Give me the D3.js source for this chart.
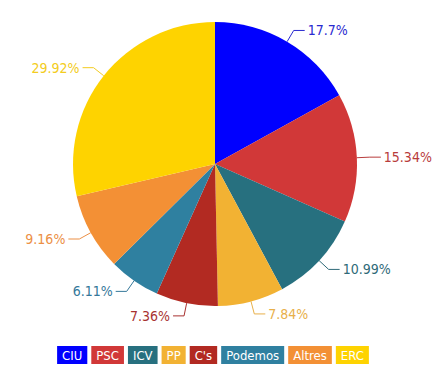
<!DOCTYPE html>
<html>
<head>
<meta charset="utf-8">
<script src="https://cdn.jsdelivr.net/npm/d3@7"></script>
<style>
  body { margin: 0; background: #fff; }
  svg { display: block; font-family: "Liberation Sans Narrow", "DejaVu Sans Condensed", sans-serif; }
</style>
</head>
<body>
<svg width="448" height="384"></svg>
<script>
var parties = ['CIU', 'PSC', 'ICV', 'PP', "C's", 'Podemos', 'Altres', 'ERC']
var values = [17.7, 15.34, 10.99, 7.84, 7.36, 6.11, 9.16, 29.92]
var labels = ['17.7%', '15.34%', '10.99%', '7.84%', '7.36%', '6.11%', '9.16%', '29.92%']
var colors = ['#0000ff', '#d13838', '#27707f', '#f2b233', '#b22a22', '#2f80a0', '#f39035', '#fed300']
var textColors = ['#2a2ad0', '#b83c3c', '#2f6a78', '#e8b04a', '#a83230', '#35789a', '#ec8f45', '#f3cc20']

var data = parties.map(function (p, i) {
  return { party: p, value: values[i], label: labels[i], color: colors[i], tcolor: textColors[i] }
})

var svg = d3.select('svg')
var cx = 215, cy = 164, r = 142

var pie = d3.pie().sort(null).value(function (d) { return d.value })
var arc = d3.arc().innerRadius(0).outerRadius(r)
var arcs = pie(data)

var g = svg.append('g').attr('transform', 'translate(' + cx + ',' + cy + ')')

g.selectAll('path.slice')
    .data(arcs)
    .enter()
    .append('path')
    .attr('class', 'slice')
    .attr('d', arc)
    .attr('fill', function (d) { return d.data.color })
    .attr('stroke', 'none')

// connector lines: edge -> elbow -> short horizontal
function pt(a, rad) {
  return [Math.sin(a) * rad, -Math.cos(a) * rad]
}

var lab = g.selectAll('g.lab')
    .data(arcs)
    .enter()
    .append('g')
    .attr('class', 'lab')

lab.append('path')
    .attr('fill', 'none')
    .attr('stroke', function (d) { return d.data.tcolor })
    .attr('stroke-width', 1)
    .attr('d', function (d) {
      var a = (d.startAngle + d.endAngle) / 2
      var p0 = pt(a, r)
      var p1 = pt(a, r + 13)
      var side = Math.sin(a) >= 0 ? 1 : -1
      return 'M' + p0 + 'L' + p1 + 'L' + [p1[0] + side * 11, p1[1]]
    })

lab.append('text')
    .attr('x', function (d) {
      var a = (d.startAngle + d.endAngle) / 2
      var side = Math.sin(a) >= 0 ? 1 : -1
      return pt(a, r + 13)[0] + side * 14
    })
    .attr('y', function (d) {
      var a = (d.startAngle + d.endAngle) / 2
      return pt(a, r + 13)[1]
    })
    .attr('dy', '0.35em')
    .attr('text-anchor', function (d) {
      var a = (d.startAngle + d.endAngle) / 2
      return Math.sin(a) >= 0 ? 'start' : 'end'
    })
    .style('font-size', '14px')
    .attr('fill', function (d) { return d.data.tcolor })
    .text(function (d) { return d.data.label })

// legend
var legend = svg.append('g').attr('transform', 'translate(0,347)')
var items = legend.selectAll('g')
    .data(data)
    .enter()
    .append('g')

items.append('rect')
    .attr('height', 18)
    .attr('fill', function (d) { return d.color })

items.append('text')
    .attr('y', 9)
    .attr('dy', '0.36em')
    .attr('fill', '#fff')
    .style('font-size', '13px')
    .text(function (d) { return d.party })

var pad = 5, gap = 4, x = 0
items.each(function () {
  var it = d3.select(this)
  var w = it.select('text').node().getComputedTextLength()
  it.select('rect').attr('width', w + pad * 2)
  it.select('text').attr('x', pad)
  it.attr('transform', 'translate(' + x + ',0)')
  x += w + pad * 2 + gap
})
var total = x - gap
legend.attr('transform', 'translate(' + (213 - total / 2) + ',346)')
</script>
</body>
</html>
